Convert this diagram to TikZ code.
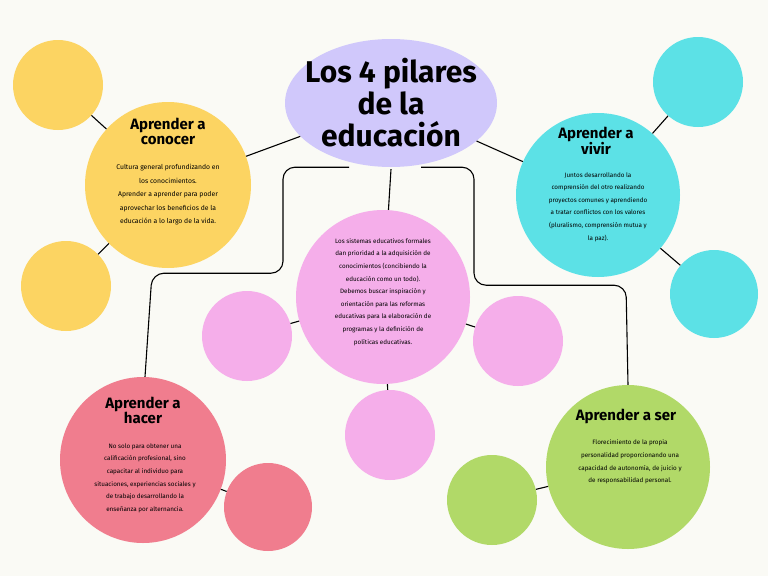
\documentclass[tikz,border=0pt]{standalone}
\usepackage{fontspec}
\setmainfont{Fira Sans}
\usetikzlibrary{shapes.geometric}
\definecolor{bg}{HTML}{FAFAF5}
\definecolor{amarillo}{HTML}{FCD462}
\definecolor{lila}{HTML}{D0C8FB}
\definecolor{rosa}{HTML}{F5AEEA}
\definecolor{celeste}{HTML}{5CE1E6}
\definecolor{rojo}{HTML}{F07D8E}
\definecolor{verde}{HTML}{B1D968}
\begin{document}
\begin{tikzpicture}[x=1pt,y=-1pt]
        \tikzset{bola/.style = {shape=circle,inner sep=0pt,minimum size=#1}}
        \tikzset{texto/.style = {align=center,font=\fontsize{6.8}{13.5}\selectfont}}
        \tikzset{titulo/.style = {font=\fontsize{15}{15}\selectfont\bfseries,align=center}}
        \tikzset{enlace/.style = {line width=1.1pt,black}}
        \fill[bg] (0,0) rectangle (768,576);
        \useasboundingbox (0,0) rectangle (768,576);
        % circulos
        \node[bola=90pt,fill=amarillo] (cpa) at (58,85) {};
        \node[bola=90pt,fill=amarillo] (cpb) at (66,286) {};
        \node[bola=166pt,fill=amarillo] (conocer) at (168,185) {};
        \node[bola=174pt,fill=rosa] (centro) at (383,297) {};
        \node[bola=90pt,fill=rosa] (rpi) at (247,336) {};
        \node[bola=90pt,fill=rosa] (rpd) at (518,341) {};
        \node[bola=90pt,fill=rosa] (rpb) at (390,435) {};
        \node[bola=164pt,fill=celeste] (vivir) at (598,195) {};
        \node[bola=90pt,fill=celeste] (vpa) at (698,82) {};
        \node[bola=88pt,fill=celeste] (vpb) at (714,294) {};
        \node[bola=166pt,fill=rojo] (hacer) at (143,460) {};
        \node[bola=88pt,fill=rojo] (hp) at (268,507) {};
        \node[bola=164pt,fill=verde] (ser) at (628,467) {};
        \node[bola=90pt,fill=verde] (sp) at (492,500) {};
        \node[ellipse,fill=lila,minimum width=212pt,minimum height=128pt] (pilares) at (391,103) {};
        % textos
        \node[titulo,font=\fontsize{30}{32}\selectfont\bfseries] at (391,103) {Los 4 pilares\\de la\\educación};
        \node[titulo] at (168,131) {Aprender a\\conocer};
        \node[texto] at (168,195) {Cultura general profundizando en\\los conocimientos.\\Aprender a aprender para poder\\aprovechar los beneficios de la\\educación a lo largo de la vida.};
        \node[texto,font=\fontsize{6.3}{12.6}\selectfont] at (383,292) {Los sistemas educativos formales\\dan prioridad a la adquisición de\\conocimientos (concibiendo la\\educación como un todo).\\Debemos buscar inspiración y\\orientación para las reformas\\educativas para la elaboración de\\programas y la definición de\\políticas educativas.};
        \node[titulo] at (596,141) {Aprender a\\vivir};
        \node[texto,font=\fontsize{6.3}{12.6}\selectfont] at (598,207) {Juntos desarrollando la\\comprensión del otro realizando\\proyectos comunes y aprendiendo\\a tratar conflictos con los valores\\(pluralismo, comprensión mutua y\\la paz).};
        \node[titulo] at (143,410) {Aprender a\\hacer};
        \node[texto,font=\fontsize{6.3}{12.6}\selectfont] at (145,478) {No solo para obtener una\\calificación profesional, sino\\capacitar al individuo para\\situaciones, experiencias sociales y\\de trabajo desarrollando la\\enseñanza por alternancia.};
        \node[titulo] at (626,416) {Aprender a ser};
        \node[texto,font=\fontsize{6.3}{12.6}\selectfont] at (630,462) {Florecimiento de la propia\\personalidad proporcionando una\\capacidad de autonomía, de juicio y\\de responsabilidad personal.};
        % enlaces
        \draw[enlace] (pilares) -- (conocer);
        \draw[enlace] (pilares) -- (vivir);
        \draw[enlace] (conocer) -- (cpa);
        \draw[enlace] (conocer) -- (cpb);
        \draw[enlace] (vivir) -- (vpa);
        \draw[enlace] (vivir) -- (vpb);
        \draw[enlace] (centro) -- (rpi);
        \draw[enlace] (centro) -- (rpd);
        \draw[enlace] (centro) -- (rpb);
        \draw[enlace] (hacer) -- (hp);
        \draw[enlace] (ser) -- (sp);
        \draw[enlace] (pilares.south) ++(0,2) -- (centro);
        \draw[enlace,rounded corners=12pt] (pilares.south) ++(-42,0) -- ++(-66,0) -- ++(0,106) -- ++(-131,0) -- (hacer.north -| 145,0);
        \draw[enlace,rounded corners=12pt] (pilares.south) ++(30,0) -- ++(53,0) -- ++(0,118) -- ++(152,0) -- (ser.north);
\end{tikzpicture}
\end{document}
